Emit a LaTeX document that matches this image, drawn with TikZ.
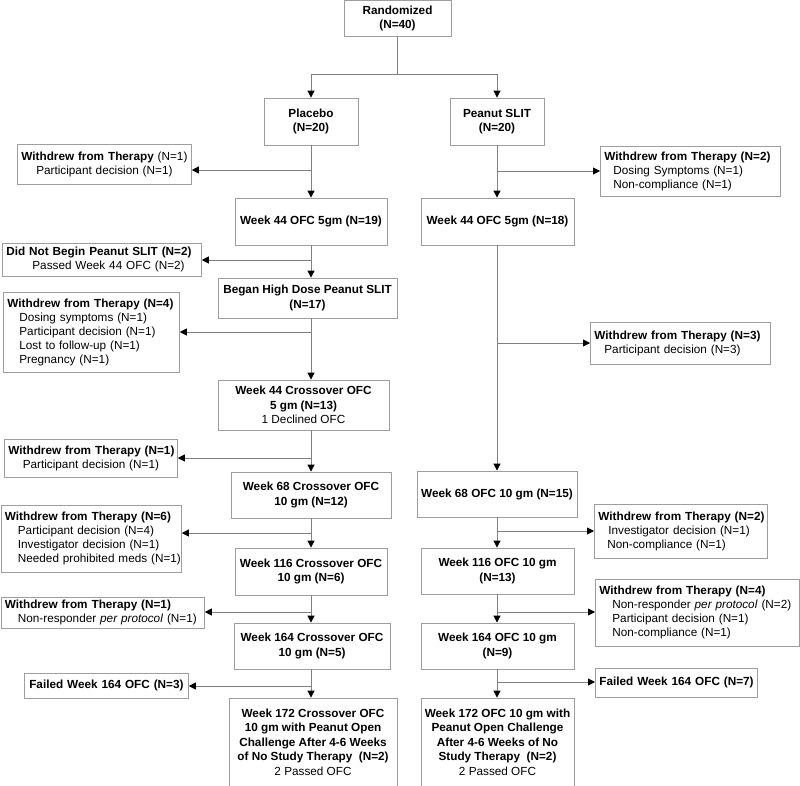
\documentclass[tikz,border=0pt]{standalone}
\usepackage{fontspec}
\setmainfont{Liberation Sans}
\usetikzlibrary{arrows.meta}

\definecolor{boxgray}{gray}{0.62}
\definecolor{linegray}{gray}{0.5}

% one unbreakable line of a side box, with its indent
\newcommand{\sline}[2][0pt]{\mbox{\hspace*{#1}#2}}

\begin{document}
\begin{tikzpicture}[
  x=1pt, y=-1pt,
  every node/.style={font=\fontsize{11.75}{14}\selectfont},
  main/.style={rectangle, draw=boxgray, line width=0.8pt, inner sep=0pt,
               align=center, font=\fontsize{11.75}{14.4}\selectfont\bfseries},
  side/.style={rectangle, draw=boxgray, line width=0.8pt, anchor=north west,
               inner xsep=4pt, inner ysep=0pt, align=left, text width=#1},
  line/.style={draw=linegray, line width=0.8pt},
  arrow/.style={draw=linegray, line width=0.8pt,
                -{Triangle[length=7pt, width=7pt, color=black]}},
]
\useasboundingbox (0,0) rectangle (800,785);

% ---- columns ----
\coordinate (lc) at (311,0);
\coordinate (rc) at (497,0);

% ---- randomisation ----
\node[main, minimum width=107pt, minimum height=36pt] (rand) at (397.5,18.5)
     {Randomized\\(N=40)};
\node[main, minimum width=94pt, minimum height=47pt] (placebo) at (311,121.5)
     {Placebo\\(N=20)};
\node[main, minimum width=94pt, minimum height=47pt] (slit) at (497,121.5)
     {Peanut SLIT\\(N=20)};

% ---- placebo arm ----
\node[main, minimum width=152pt, minimum height=47pt] (p44) at (311,221.5)
     {Week 44 OFC 5gm (N=19)};
\node[main, minimum width=179pt, minimum height=40pt] (phigh) at (307.5,298)
     {Began High Dose Peanut SLIT\\(N=17)};
\node[main, minimum width=171pt, minimum height=50pt] (pco44) at (303.5,405)
     {Week 44 Crossover OFC\\5 gm (N=13)\\\mdseries 1 Declined OFC};
\node[main, minimum width=160pt, minimum height=46pt] (pco68) at (311,495)
     {Week 68 Crossover OFC\\10 gm (N=12)};
\node[main, minimum width=152pt, minimum height=47pt] (pco116) at (311,571.5)
     {Week 116 Crossover OFC\\10 gm (N=6)};
\node[main, minimum width=156pt, minimum height=46pt] (pco164) at (312,646)
     {Week 164 Crossover OFC\\10 gm (N=5)};
\node[main, minimum width=168pt, minimum height=88pt] (pco172) at (313,742)
     {Week 172 Crossover OFC\\10 gm with Peanut Open\\Challenge After 4-6 Weeks\\of No Study Therapy~~(N=2)\\\mdseries 2 Passed OFC};

% ---- peanut SLIT arm ----
\node[main, minimum width=153pt, minimum height=47pt] (s44) at (497.5,221.5)
     {Week 44 OFC 5gm (N=18)};
\node[main, minimum width=160pt, minimum height=46pt] (s68) at (497,494)
     {Week 68 OFC 10 gm (N=15)};
\node[main, minimum width=153pt, minimum height=46pt] (s116) at (497.5,571)
     {Week 116 OFC 10 gm\\(N=13)};
\node[main, minimum width=153pt, minimum height=46pt] (s164) at (497.5,646)
     {Week 164 OFC 10 gm\\(N=9)};
\node[main, minimum width=153pt, minimum height=88pt] (s172) at (497.5,742)
     {Week 172 OFC 10 gm with\\Peanut Open Challenge\\After 4-6 Weeks of No\\Study Therapy~~(N=2)\\\mdseries 2 Passed OFC};

% ---- left side boxes ----
\node[side=166pt, align=center, minimum height=40pt] (pw1) at (17,144)
     {\sline{\textbf{Withdrew from Therapy} (N=1)}\\\sline{Participant decision (N=1)}};
\node[side=191pt, minimum height=33pt] (pnb) at (2,243)
     {\sline{\bfseries Did Not Begin Peanut SLIT (N=2)}\\
      \sline[26pt]{Passed Week 44 OFC (N=2)}};
\node[side=168pt, minimum height=80pt] (pw2) at (3,292)
     {\sline{\bfseries Withdrew from Therapy (N=4)}\\
      \sline[12pt]{Dosing symptoms (N=1)}\\
      \sline[12pt]{Participant decision (N=1)}\\
      \sline[12pt]{Lost to follow-up (N=1)}\\
      \sline[12pt]{Pregnancy (N=1)}};
\node[side=165pt, align=center, minimum height=38pt] (pw3) at (4,439)
     {\sline{\bfseries Withdrew from Therapy (N=1)}\\\sline{Participant decision (N=1)}};
\node[side=172.5pt, minimum height=67pt] (pw4) at (0.5,505)
     {\sline{\bfseries Withdrew from Therapy (N=6)}\\
      \sline[13pt]{Participant decision (N=4)}\\
      \sline[13pt]{Investigator decision (N=1)}\\
      \sline[13pt]{Needed prohibited meds (N=1)}};
\node[side=195.5pt, minimum height=31pt] (pw5) at (0.5,597)
     {\sline{\bfseries Withdrew from Therapy (N=1)}\\
      \sline[13pt]{Non-responder \textit{per protocol} (N=1)}};
\node[side=156pt, align=center, minimum height=25pt] (pf) at (24,673)
     {\sline{\bfseries Failed Week 164 OFC (N=3)}};

% ---- right side boxes ----
\node[side=172pt, minimum height=50pt] (sw1) at (600,146)
     {\sline{\bfseries Withdrew from Therapy (N=2)}\\
      \sline[9pt]{Dosing Symptoms (N=1)}\\
      \sline[9pt]{Non-compliance (N=1)}};
\node[side=172pt, minimum height=42pt] (sw2) at (590,322)
     {\sline{\bfseries Withdrew from Therapy (N=3)}\\
      \sline[10pt]{Participant decision (N=3)}};
\node[side=165pt, minimum height=54pt] (sw3) at (594,504)
     {\sline{\bfseries Withdrew from Therapy (N=2)}\\
      \sline[10pt]{Investigator decision (N=1)}\\
      \sline[9pt]{Non-compliance (N=1)}};
\node[side=196pt, minimum height=67pt] (sw4) at (595,579)
     {\sline{\bfseries Withdrew from Therapy (N=4)}\\
      \sline[13pt]{Non-responder \textit{per protocol} (N=2)}\\
      \sline[13pt]{Participant decision (N=1)}\\
      \sline[13pt]{Non-compliance (N=1)}};
\node[side=154pt, align=center, minimum height=29pt] (sf) at (595,668)
     {\sline{\bfseries Failed Week 164 OFC (N=7)}};

% ---- branch points ----
\coordinate (lb1) at (311,170);
\coordinate (lb2) at (311,260);
\coordinate (lb3) at (311,332);
\coordinate (lb4) at (311,458);
\coordinate (lb5) at (311,533);
\coordinate (lb6) at (311,612);
\coordinate (lb7) at (311,686);
\coordinate (rb1) at (497,171);
\coordinate (rb2) at (497,343);
\coordinate (rb3) at (497,531);
\coordinate (rb4) at (497,612);
\coordinate (rb5) at (497,682);

% ---- split ----
\draw[line] (rand.south) -- (rand.south |- 0,74) coordinate (split);
\draw[arrow] (split) -| (placebo.north);
\draw[arrow] (split) -| (slit.north);

% ---- placebo column ----
\draw[arrow] (lc |- placebo.south) -- (lc |- p44.north);
\draw[arrow] (lc |- p44.south)     -- (lc |- phigh.north);
\draw[arrow] (lc |- phigh.south)   -- (lc |- pco44.north);
\draw[arrow] (lc |- pco44.south)   -- (lc |- pco68.north);
\draw[arrow] (lc |- pco68.south)   -- (lc |- pco116.north);
\draw[arrow] (lc |- pco116.south)  -- (lc |- pco164.north);
\draw[arrow] (lc |- pco164.south)  -- (lc |- pco172.north);

% ---- peanut SLIT column ----
\draw[arrow] (rc |- slit.south) -- (rc |- s44.north);
\draw[arrow] (rc |- s44.south)  -- (rc |- s68.north);
\draw[arrow] (rc |- s68.south)  -- (rc |- s116.north);
\draw[arrow] (rc |- s116.south) -- (rc |- s164.north);
\draw[arrow] (rc |- s164.south) -- (rc |- s172.north);

% ---- exits ----
\draw[arrow] (lb1) -- (lb1 -| pw1.east);
\draw[arrow] (lb2) -- (lb2 -| pnb.east);
\draw[arrow] (lb3) -- (lb3 -| pw2.east);
\draw[arrow] (lb4) -- (lb4 -| pw3.east);
\draw[arrow] (lb5) -- (lb5 -| pw4.east);
\draw[arrow] (lb6) -- (lb6 -| pw5.east);
\draw[arrow] (lb7) -- (lb7 -| pf.east);
\draw[arrow] (rb1) -- (rb1 -| sw1.west);
\draw[arrow] (rb2) -- (rb2 -| sw2.west);
\draw[arrow] (rb3) -- (rb3 -| sw3.west);
\draw[arrow] (rb4) -- (rb4 -| sw4.west);
\draw[arrow] (rb5) -- (rb5 -| sf.west);

\end{tikzpicture}
\end{document}
